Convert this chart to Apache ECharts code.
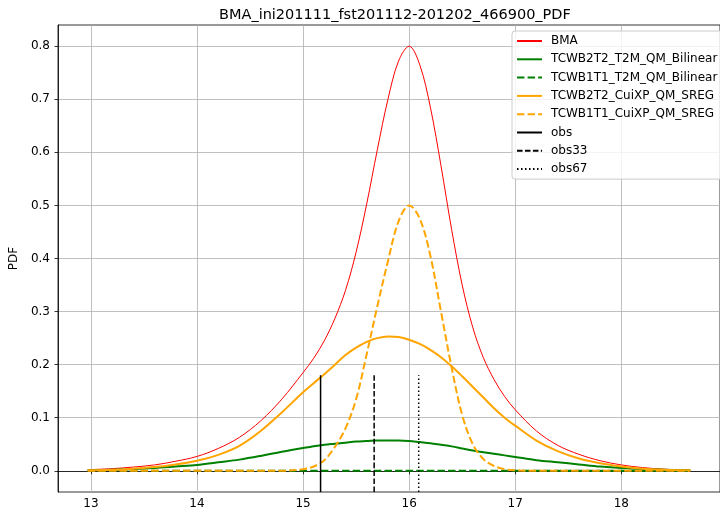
<!DOCTYPE html>
<html><head><meta charset="utf-8">
<script src="https://cdn.jsdelivr.net/npm/echarts@6/dist/echarts.min.js"></script>
<style>html,body{margin:0;padding:0;background:#fff}#c{width:720px;height:514px}</style>
</head><body><div id="c"></div>
<script>
const titleText = 'BMA_ini201111_fst201112-201202_466900_PDF';
const xValues = [12.97, 13.2, 13.4, 13.6, 13.8, 14.0, 14.2, 14.4, 14.6, 14.8, 15.0, 15.1, 15.2, 15.3, 15.4, 15.5, 15.6, 15.7, 15.8, 15.9, 16.0, 16.1, 16.2, 16.3, 16.4, 16.5, 16.6, 16.7, 16.8, 16.9, 17.0, 17.2, 17.4, 17.6, 17.8, 18.0, 18.2, 18.4, 18.65];
const bma = [0.002, 0.004, 0.007, 0.011, 0.018, 0.027, 0.042, 0.063, 0.094, 0.135, 0.185, 0.212, 0.245, 0.287, 0.34, 0.412, 0.503, 0.605, 0.70, 0.772, 0.80, 0.765, 0.685, 0.575, 0.455, 0.35, 0.27, 0.213, 0.172, 0.14, 0.115, 0.075, 0.048, 0.031, 0.019, 0.011, 0.006, 0.003, 0.001];
const t2mB2 = [0.001, 0.002, 0.003, 0.005, 0.008, 0.011, 0.016, 0.021, 0.028, 0.036, 0.043, 0.046, 0.049, 0.051, 0.053, 0.055, 0.056, 0.057, 0.057, 0.057, 0.056, 0.054, 0.052, 0.049, 0.046, 0.042, 0.038, 0.035, 0.032, 0.029, 0.026, 0.020, 0.016, 0.012, 0.008, 0.005, 0.003, 0.002, 0.001];
const t2mB1 = [0, 0, 0, 0, 0, 0, 0, 0, 0, 0, 0, 0, 0, 0, 0, 0, 0, 0, 0, 0, 0, 0, 0, 0, 0, 0, 0, 0, 0, 0, 0, 0, 0, 0, 0, 0, 0, 0, 0];
const cuiB2 = [0.001, 0.002, 0.004, 0.007, 0.012, 0.019, 0.030, 0.047, 0.075, 0.110, 0.148, 0.165, 0.182, 0.200, 0.218, 0.232, 0.243, 0.250, 0.253, 0.252, 0.247, 0.239, 0.228, 0.214, 0.197, 0.178, 0.158, 0.138, 0.118, 0.100, 0.085, 0.057, 0.037, 0.023, 0.014, 0.008, 0.004, 0.002, 0.001];
const cuiB1 = [0, 0, 0, 0, 0, 0, 0, 0, 0, 0, 0.003, 0.008, 0.02, 0.045, 0.08, 0.135, 0.22, 0.31, 0.395, 0.47, 0.50, 0.475, 0.405, 0.30, 0.195, 0.105, 0.05, 0.022, 0.009, 0.003, 0.001, 0, 0, 0, 0, 0, 0, 0, 0];
const obsX = 15.165;
const obs33X = 15.67;
const obs67X = 16.09;
const obsLineTop = 0.18;
const xTicks = [13, 14, 15, 16, 17, 18];
const yTicks = [0, 0.1, 0.2, 0.3, 0.4, 0.5, 0.6, 0.7, 0.8];
const xMin = 12.69, xMax = 18.93, yMin = -0.04, yMax = 0.84;

const pairs = ys => xValues.map((x, i) => [x, ys[i]]);
const vline = x => [[x, yMin], [x, obsLineTop]];
const FONT = 'DejaVu Sans';

const lineSeries = (name, data, color, width, type, smooth) => ({
  name, type: 'line', data, symbol: 'none', smooth: smooth === undefined ? 0.35 : smooth,
  lineStyle: { color, width, type }, itemStyle: { color }, clip: true
});

const chart = echarts.init(document.getElementById('c'), null, { renderer: 'canvas' });
chart.setOption({
  animation: false,
  backgroundColor: '#ffffff',
  textStyle: { fontFamily: FONT },
  title: {
    text: titleText, left: 214, top: 3,
    textStyle: { fontFamily: FONT, fontSize: 14.5, fontWeight: 'normal', color: '#000' }
  },
  grid: { left: 58, top: 25, width: 672, height: 467, show: true, borderColor: '#000', borderWidth: 0.8, backgroundColor: 'transparent' },
  legend: {
    orient: 'vertical', left: 512, top: 31,
    itemWidth: 25, itemHeight: 14, itemGap: 4.3,
    padding: [3, 8, 3, 4],
    backgroundColor: 'rgba(255,255,255,0.8)', borderColor: '#cccccc', borderWidth: 1, borderRadius: 3,
    itemStyle: { opacity: 0 },
    textStyle: { fontFamily: FONT, fontSize: 12, color: '#000', lineHeight: 14, padding: [0, 0, 0, 4] },
    data: ['BMA', 'TCWB2T2_T2M_QM_Bilinear', 'TCWB1T1_T2M_QM_Bilinear', 'TCWB2T2_CuiXP_QM_SREG', 'TCWB1T1_CuiXP_QM_SREG', 'obs', 'obs33', 'obs67']
  },
  xAxis: {
    type: 'value', min: xMin, max: xMax, splitNumber: 6,
    axisLine: { show: true, lineStyle: { color: '#000', width: 0.8 } },
    axisTick: { show: true, length: 3.5, customValues: xTicks, lineStyle: { color: '#000', width: 0.8 } },
    axisLabel: { customValues: xTicks, margin: 6, color: '#000', fontFamily: FONT, fontSize: 12, formatter: v => String(v) },
    splitLine: { show: true, lineStyle: { color: '#b0b0b0', width: 0.8 } }
  },
  yAxis: {
    type: 'value', min: yMin, max: yMax, splitNumber: 8,
    name: 'PDF', nameLocation: 'middle', nameGap: 38, nameRotate: 90,
    nameTextStyle: { fontFamily: FONT, fontSize: 12, color: '#000' },
    axisLine: { show: true, lineStyle: { color: '#000', width: 0.8 } },
    axisTick: { show: true, length: 3.5, customValues: yTicks, lineStyle: { color: '#000', width: 0.8 } },
    axisLabel: { customValues: yTicks, margin: 8, color: '#000', fontFamily: FONT, fontSize: 12, formatter: v => v.toFixed(1) },
    splitLine: { show: true, lineStyle: { color: '#b0b0b0', width: 0.8 } }
  },
  series: [
    lineSeries('BMA', pairs(bma), '#ff0000', 1, 'solid'),
    lineSeries('TCWB2T2_T2M_QM_Bilinear', pairs(t2mB2), '#008000', 2, 'solid'),
    lineSeries('TCWB1T1_T2M_QM_Bilinear', pairs(t2mB1), '#008000', 2, [7.4, 3.2]),
    lineSeries('TCWB2T2_CuiXP_QM_SREG', pairs(cuiB2), '#ffa500', 2, 'solid'),
    lineSeries('TCWB1T1_CuiXP_QM_SREG', pairs(cuiB1), '#ffa500', 2, [7.4, 3.2]),
    lineSeries('obs', vline(obsX), '#000000', 1.5, 'solid', false),
    lineSeries('obs33', vline(obs33X), '#000000', 1.5, [5.55, 2.4], false),
    lineSeries('obs67', vline(obs67X), '#000000', 1.5, [1.5, 2.5], false)
  ]
});
</script>
</body></html>
